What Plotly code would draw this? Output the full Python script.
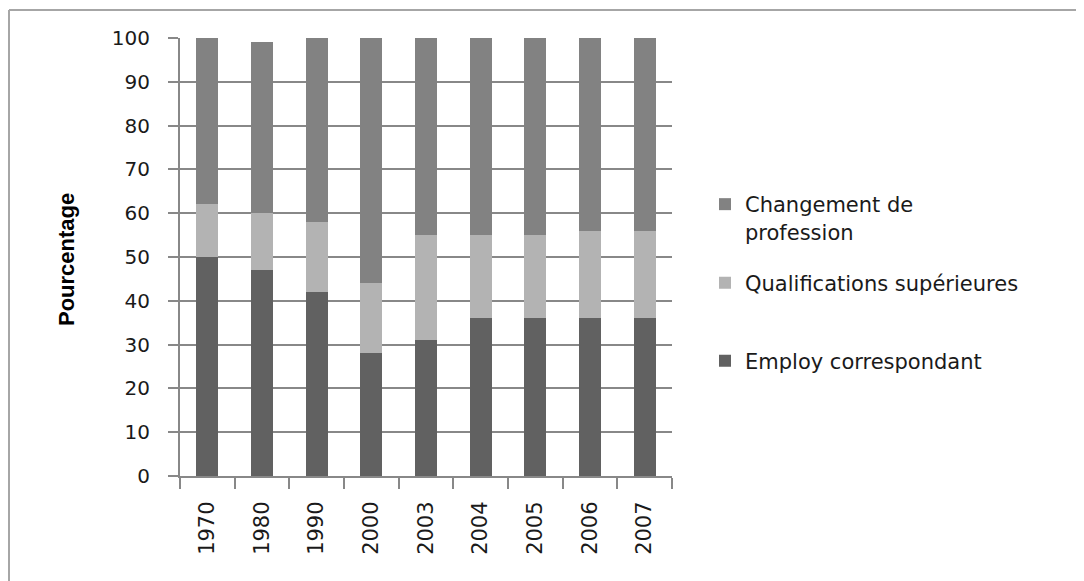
import plotly.graph_objects as go

years = ["1970", "1980", "1990", "2000", "2003", "2004", "2005", "2006", "2007"]
employ = [50, 47, 42, 28, 31, 36, 36, 36, 36]
qualif = [12, 13, 16, 16, 24, 19, 19, 20, 20]
change = [38, 39, 42, 56, 45, 45, 45, 44, 44]

names = ["Employ correspondant", "Qualifications supérieures", "Changement de<br>profession"]
colors = ["#616161", "#b3b3b3", "#828282"]
legends = ["legend3", "legend2", "legend"]

W, H = 1076, 573
L, T, R, B = 172, 30, 412, 105
PW, PH = W - L - R, H - T - B


def px(xf):
    return (xf - L) / PW


def py(yf):
    return (H - B - yf) / PH


fig = go.Figure()
for vals, name, col, lg in zip([employ, qualif, change], names, colors, legends):
    fig.add_trace(go.Bar(x=years, y=vals, name=name, marker=dict(color=col, line=dict(width=0)),
                         width=0.4, legend=lg))

ytickfont = dict(family="DejaVu Sans", size=20, color="#1a1a1a")
xtickfont = dict(family="DejaVu Sans", size=21, color="#1a1a1a")
legfont = dict(family="DejaVu Sans", size=21, color="#1a1a1a")
legx = px(697)
fig.update_layout(
    barmode="stack",
    width=W, height=H,
    margin=dict(l=L, r=R, t=T, b=B),
    plot_bgcolor="white", paper_bgcolor="white",
    showlegend=True,
    legend=dict(x=legx, xanchor="left", y=py(210), yanchor="middle", valign="top",
                font=legfont, itemwidth=30, bgcolor="rgba(0,0,0,0)"),
    legend2=dict(x=legx, xanchor="left", y=py(275), yanchor="middle",
                 font=legfont, itemwidth=30, bgcolor="rgba(0,0,0,0)"),
    legend3=dict(x=legx, xanchor="left", y=py(353), yanchor="middle",
                 font=legfont, itemwidth=30, bgcolor="rgba(0,0,0,0)"),
    xaxis=dict(type="category", tickson="boundaries", ticks="outside", ticklen=11,
               tickcolor="#888888", tickwidth=2, showline=True, linecolor="#888888", linewidth=2,
               showgrid=False, tickangle=-90, tickfont=xtickfont, ticklabelstandoff=15),
    yaxis=dict(range=[0, 100], dtick=10, ticks="outside", ticklen=10, tickcolor="#888888",
               tickwidth=2, showline=True, linecolor="#888888", linewidth=2,
               showgrid=True, gridcolor="#888888", gridwidth=2, zeroline=False,
               tickfont=ytickfont, ticklabelstandoff=14),
    bargap=0.6,
)

fig.add_annotation(text="<b>Pourcentage</b>", xref="paper", yref="paper",
                   x=px(58), y=py(252), xanchor="center", yanchor="middle", textangle=-90,
                   showarrow=False,
                   font=dict(family="Liberation Sans", size=22, color="#000000"))

# outer chart border (top and left edges visible)
fig.add_shape(type="line", xref="paper", yref="paper", x0=px(1), x1=px(W + 10),
              y0=py(2), y1=py(2), line=dict(color="#a6a6a6", width=2))
fig.add_shape(type="line", xref="paper", yref="paper", x0=px(1), x1=px(1),
              y0=py(2), y1=py(H + 10), line=dict(color="#a6a6a6", width=2))

fig.write_html("out.html")
